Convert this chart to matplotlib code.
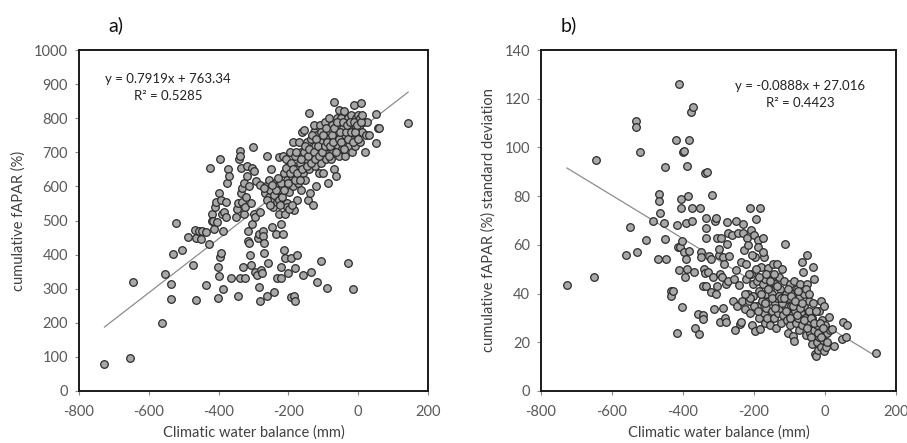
import matplotlib
matplotlib.use("Agg")
import matplotlib.pyplot as plt
import numpy as np

plt.rcParams['font.family'] = ['Lato', 'DejaVu Sans']
plt.rcParams['axes.unicode_minus'] = False

# ---- Panel a data: climatic water balance (mm) vs cumulative fAPAR (%)
a_pts = [
 (-727, 80), (-655, 98), (-645, 320), (-562, 198), (-553, 343), (-535, 313), (-535, 270), (-532, 402),
 (-522, 493), (-506, 415), (-488, 452), (-472, 369), (-467, 473), (-466, 266), (-465, 450), (-455, 468),
 (-450, 445), (-448, 470), (-435, 465), (-436, 312), (-428, 430), (-425, 653), (-420, 520), (-420, 498),
 (-415, 500), (-412, 475), (-410, 540), (-407, 555), (-405, 495), (-403, 272), (-403, 365), (-400, 580),
 (-398, 338), (-396, 393), (-395, 680), (-393, 405), (-392, 560), (-390, 520), (-388, 300), (-386, 470),
 (-385, 525), (-380, 510), (-378, 555), (-375, 610), (-372, 650), (-370, 630), (-365, 330), (-350, 510),
 (-348, 535), (-345, 550), (-343, 278), (-342, 680), (-340, 705), (-338, 330), (-338, 690), (-336, 655),
 (-335, 580), (-333, 595), (-332, 555), (-330, 365), (-328, 610), (-326, 520), (-325, 330), (-325, 540),
 (-322, 570), (-320, 660), (-318, 630), (-316, 470), (-315, 440), (-313, 435), (-312, 600), (-310, 400),
 (-308, 550), (-307, 370), (-305, 655), (-305, 490), (-302, 717), (-300, 645), (-298, 520), (-296, 510),
 (-295, 350), (-292, 615), (-290, 340), (-288, 450), (-285, 460), (-283, 305), (-282, 605), (-281, 265),
 (-280, 525), (-278, 355), (-276, 345), (-274, 470), (-272, 455), (-270, 435), (-270, 405), (-268, 580),
 (-265, 600), (-262, 690), (-260, 280), (-258, 375), (-256, 570), (-255, 620), (-253, 590), (-250, 650),
 (-248, 480), (-245, 560), (-243, 540), (-240, 290), (-238, 610), (-236, 460), (-234, 330), (-232, 555),
 (-230, 600), (-228, 685), (-226, 520), (-225, 570), (-222, 365), (-220, 330), (-220, 490), (-218, 600),
 (-216, 690), (-215, 460), (-214, 640), (-212, 415), (-210, 390), (-208, 680), (-205, 550), (-205, 620),
 (-203, 540), (-200, 345), (-198, 660), (-197, 585), (-195, 700), (-193, 390), (-192, 275), (-190, 630),
 (-188, 730), (-186, 600), (-185, 530), (-183, 280), (-182, 265), (-181, 360), (-180, 690), (-178, 650),
 (-176, 400), (-175, 560), (-173, 610), (-170, 730), (-168, 670), (-165, 590), (-163, 700), (-160, 760),
 (-158, 340), (-157, 640), (-155, 765), (-152, 620), (-150, 680), (-148, 730), (-145, 700), (-143, 560),
 (-142, 815), (-140, 650), (-138, 580), (-136, 350), (-135, 740), (-133, 690), (-130, 545), (-128, 760),
 (-126, 780), (-125, 660), (-123, 720), (-120, 600), (-118, 320), (-117, 750), (-115, 700), (-113, 640),
 (-110, 780), (-108, 382), (-107, 670), (-105, 730), (-103, 760), (-100, 640), (-98, 700), (-95, 790),
 (-93, 680), (-90, 740), (-88, 302), (-87, 610), (-85, 800), (-83, 720), (-80, 760), (-78, 680),
 (-75, 780), (-73, 700), (-70, 848), (-68, 650), (-66, 740), (-64, 630), (-62, 800), (-60, 760),
 (-58, 720), (-56, 825), (-54, 690), (-52, 780), (-50, 740), (-48, 800), (-46, 710), (-44, 770),
 (-42, 820), (-40, 750), (-38, 690), (-36, 790), (-34, 730), (-32, 760), (-30, 375), (-28, 800),
 (-26, 720), (-24, 770), (-22, 740), (-20, 810), (-18, 700), (-16, 760), (-14, 300), (-12, 840),
 (-10, 780), (-8, 720), (-6, 800), (-4, 750), (0, 810), (2, 770), (5, 730), (8, 845), (10, 760),
 (15, 790), (20, 700), (22, 750), (25, 790), (30, 750), (50, 812), (52, 728), (57, 770), (60, 770),
 (143, 787),
 (-240, 575), (-235, 590), (-228, 560), (-222, 610), (-218, 570), (-212, 590), (-208, 655), (-202, 610),
 (-196, 640), (-192, 670), (-186, 650), (-182, 620), (-178, 700), (-174, 640), (-168, 620), (-164, 680),
 (-160, 650), (-156, 700), (-152, 720), (-148, 660), (-144, 690), (-140, 710), (-136, 670), (-132, 750),
 (-128, 700), (-124, 680), (-120, 740), (-116, 720), (-112, 690), (-108, 760), (-104, 700), (-100, 750),
 (-96, 720), (-92, 770), (-88, 730), (-84, 690), (-80, 720), (-76, 750), (-72, 730), (-68, 770),
 (-64, 700), (-60, 790), (-56, 740), (-52, 760), (-48, 730), (-44, 790), (-40, 710), (-36, 760),
 (-32, 780), (-28, 740), (-24, 790), (-20, 760), (-16, 730), (-12, 790), (-8, 760), (-4, 780),
 (0, 740), (4, 800), (8, 790), (12, 810), (-210, 520), (-198, 535), (-190, 545), (-225, 545),
 (-262, 560), (-270, 595), (-248, 605), (-230, 625), (-252, 545),
]
a_x = [p[0] for p in a_pts]
a_y = [p[1] for p in a_pts]

# ---- Panel b data: climatic water balance (mm) vs fAPAR standard deviation
b_pts = [
 (-727, 43.5), (-652, 47), (-645, 95), (-560, 56), (-550, 67.5), (-533, 111), (-532, 108.5), (-530, 57),
 (-522, 98), (-505, 62), (-485, 70), (-470, 54), (-468, 81), (-468, 78), (-465, 73), (-455, 69),
 (-452, 92), (-450, 62.5), (-448, 54), (-435, 41), (-433, 39), (-428, 41), (-420, 103), (-418, 68),
 (-418, 24), (-415, 59), (-412, 49.5), (-410, 126), (-408, 59), (-407, 79), (-406, 75), (-404, 34.5),
 (-402, 61.5), (-400, 98), (-398, 98.5), (-396, 57), (-395, 47), (-393, 69), (-392, 54), (-390, 92.5),
 (-388, 50), (-387, 80), (-384, 103), (-383, 57.5), (-378, 114.5), (-376, 75), (-375, 70), (-372, 116.5),
 (-368, 49), (-366, 26), (-358, 31.5), (-355, 23.5), (-352, 75), (-350, 57), (-350, 55), (-345, 43),
 (-344, 31), (-344, 29.5), (-340, 50), (-338, 89.5), (-337, 48.5), (-336, 43), (-335, 71), (-335, 67),
 (-334, 63), (-332, 90), (-330, 49), (-328, 55.5), (-322, 40.5), (-320, 54), (-318, 80.5), (-316, 47),
 (-312, 33.5), (-310, 70), (-308, 40), (-306, 71), (-305, 43), (-303, 63), (-300, 56), (-298, 58.5),
 (-296, 48), (-295, 28.5), (-293, 63), (-290, 47), (-288, 55), (-286, 34), (-284, 52), (-282, 30),
 (-280, 44), (-278, 28.5), (-277, 60.5), (-276, 69.5), (-274, 65), (-272, 45), (-270, 55.5), (-262, 64),
 (-258, 37), (-256, 46), (-255, 25), (-252, 49.5), (-250, 70), (-248, 35), (-245, 65), (-242, 43.5),
 (-240, 27.5), (-238, 53), (-236, 28.5), (-233, 37), (-231, 65), (-230, 68.5), (-228, 58), (-226, 33.5),
 (-224, 46), (-222, 52), (-220, 63), (-218, 40), (-216, 60), (-214, 37), (-212, 32), (-210, 75),
 (-209, 66), (-208, 48), (-206, 27), (-204, 44), (-202, 39), (-200, 64), (-198, 55), (-196, 24.5),
 (-195, 70.5), (-193, 35), (-191, 45), (-190, 62), (-188, 59), (-186, 30), (-185, 41), (-183, 25.5),
 (-182, 75), (-180, 51), (-178, 37), (-176, 63), (-175, 44), (-173, 32), (-171, 55), (-170, 28),
 (-168, 46), (-166, 40), (-165, 34), (-163, 30), (-160, 50.5), (-158, 37), (-156, 42), (-155, 27),
 (-152, 46), (-150, 33), (-148, 40), (-146, 52), (-144, 30), (-142, 36), (-140, 44), (-138, 26),
 (-136, 52), (-134, 38), (-132, 32), (-130, 47), (-128, 34), (-126, 42), (-124, 28), (-122, 37),
 (-120, 50), (-118, 31), (-116, 45), (-114, 60.5), (-112, 35), (-110, 40), (-108, 29), (-106, 33),
 (-104, 24), (-102, 38), (-100, 44), (-98, 27), (-96, 35), (-94, 31), (-92, 40), (-90, 22.5),
 (-88, 20.5), (-86, 45), (-84, 33), (-82, 28), (-80, 42), (-78, 36), (-76, 30), (-74, 25),
 (-72, 38), (-70, 44), (-68, 32), (-66, 27), (-64, 53), (-62, 49), (-60, 40), (-58, 35),
 (-56, 30), (-54, 23), (-52, 56), (-50, 44), (-48, 28), (-46, 37), (-44, 33), (-42, 24),
 (-40, 22), (-38, 30), (-36, 19.5), (-34, 51), (-32, 46), (-30, 25), (-28, 15), (-26, 14.5),
 (-24, 20), (-22, 27), (-20, 17), (-18, 33), (-16, 22), (-14, 24), (-12, 18), (-10, 37),
 (-8, 29), (-6, 21), (-4, 35), (-2, 16.5), (0, 27), (2, 18), (5, 24), (10, 30.5), (14, 25),
 (20, 25.5), (25, 18.5), (48, 21.5), (50, 28.5), (58, 22), (62, 27), (143, 15.5),
 (-210, 38), (-200, 35), (-190, 33), (-180, 40), (-170, 36), (-160, 42), (-150, 38), (-140, 34),
 (-130, 39), (-120, 36), (-110, 33), (-100, 30), (-90, 35), (-80, 31), (-70, 34), (-60, 29),
 (-50, 26), (-40, 30), (-30, 28), (-20, 24), (-10, 22), (-225, 40), (-215, 48), (-205, 56),
 (-195, 50), (-185, 47), (-175, 57), (-165, 48), (-155, 45), (-145, 48), (-135, 43), (-125, 38),
 (-115, 38), (-105, 42), (-95, 39), (-85, 37), (-75, 41), (-65, 36), (-55, 42), (-45, 40),
 (-35, 36), (-25, 33), (-15, 28), (-5, 26), (5, 20),
]
b_x = [p[0] for p in b_pts]
b_y = [p[1] for p in b_pts]

# trend line coefficients (as printed on chart)
a_slope, a_icpt = 0.7919, 763.34
b_slope, b_icpt = -0.0888, 27.016

x_ticks = [-800, -600, -400, -200, 0, 200]
a_yticks = [0, 100, 200, 300, 400, 500, 600, 700, 800, 900, 1000]
b_yticks = [0, 20, 40, 60, 80, 100, 120, 140]

fig = plt.figure(figsize=(9.07, 4.43), dpi=100)
ax_a = fig.add_axes([0.0871, 0.1174, 0.3848, 0.7696])
ax_b = fig.add_axes([0.5965, 0.1174, 0.3914, 0.7696])

tick_col = '#595959'

def style(ax, yticks, ylim):
    ax.set_xlim(-800, 200)
    ax.set_ylim(*ylim)
    ax.set_xticks(x_ticks)
    ax.set_yticks(yticks)
    for s in ax.spines.values():
        s.set_color('#1a1a1a')
        s.set_linewidth(1.4)
    ax.tick_params(direction='out', length=3, width=0.8, color='#888888',
                   labelcolor=tick_col, labelsize=10.5)
    ax.tick_params(axis='x', pad=7)
    ax.tick_params(axis='y', pad=5)
    ax.set_xlabel('Climatic water balance (mm)', fontsize=10.5, color='#404040', labelpad=5)

def scatter(ax, xs, ys, slope, icpt):
    ax.scatter(xs, ys, s=30, facecolor='#a8a8a8', edgecolor='#2b2b2b', linewidth=0.9, zorder=3)
    xl = np.array([min(xs), max(xs)])
    ax.plot(xl, slope * xl + icpt, color='#8c8c8c', linewidth=0.9, zorder=2)

scatter(ax_a, a_x, a_y, a_slope, a_icpt)
style(ax_a, a_yticks, (0, 1000))
ax_a.set_ylabel('cumulative fAPAR (%)', fontsize=10.5, color='#404040', labelpad=6)
ax_a.text(-545, 915, 'y = 0.7919x + 763.34', ha='center', va='center', fontsize=9.5, color='#222222')
ax_a.text(-545, 865, 'R² = 0.5285', ha='center', va='center', fontsize=9.5, color='#222222')

scatter(ax_b, b_x, b_y, b_slope, b_icpt)
style(ax_b, b_yticks, (0, 140))
ax_b.set_ylabel('cumulative fAPAR (%) standard deviation', fontsize=10.5, color='#404040', labelpad=6)
ax_b.text(-70, 125.2, 'y = -0.0888x + 27.016', ha='center', va='center', fontsize=9.5, color='#222222')
ax_b.text(-70, 118.2, 'R² = 0.4423', ha='center', va='center', fontsize=9.5, color='#222222')

fig.text(108 / 907, 1 - 25 / 443, 'a)', fontsize=14, ha='left', va='center', color='#111111')
fig.text(561 / 907, 1 - 25 / 443, 'b)', fontsize=14, ha='left', va='center', color='#111111')

fig.savefig('out.png', dpi=100)
